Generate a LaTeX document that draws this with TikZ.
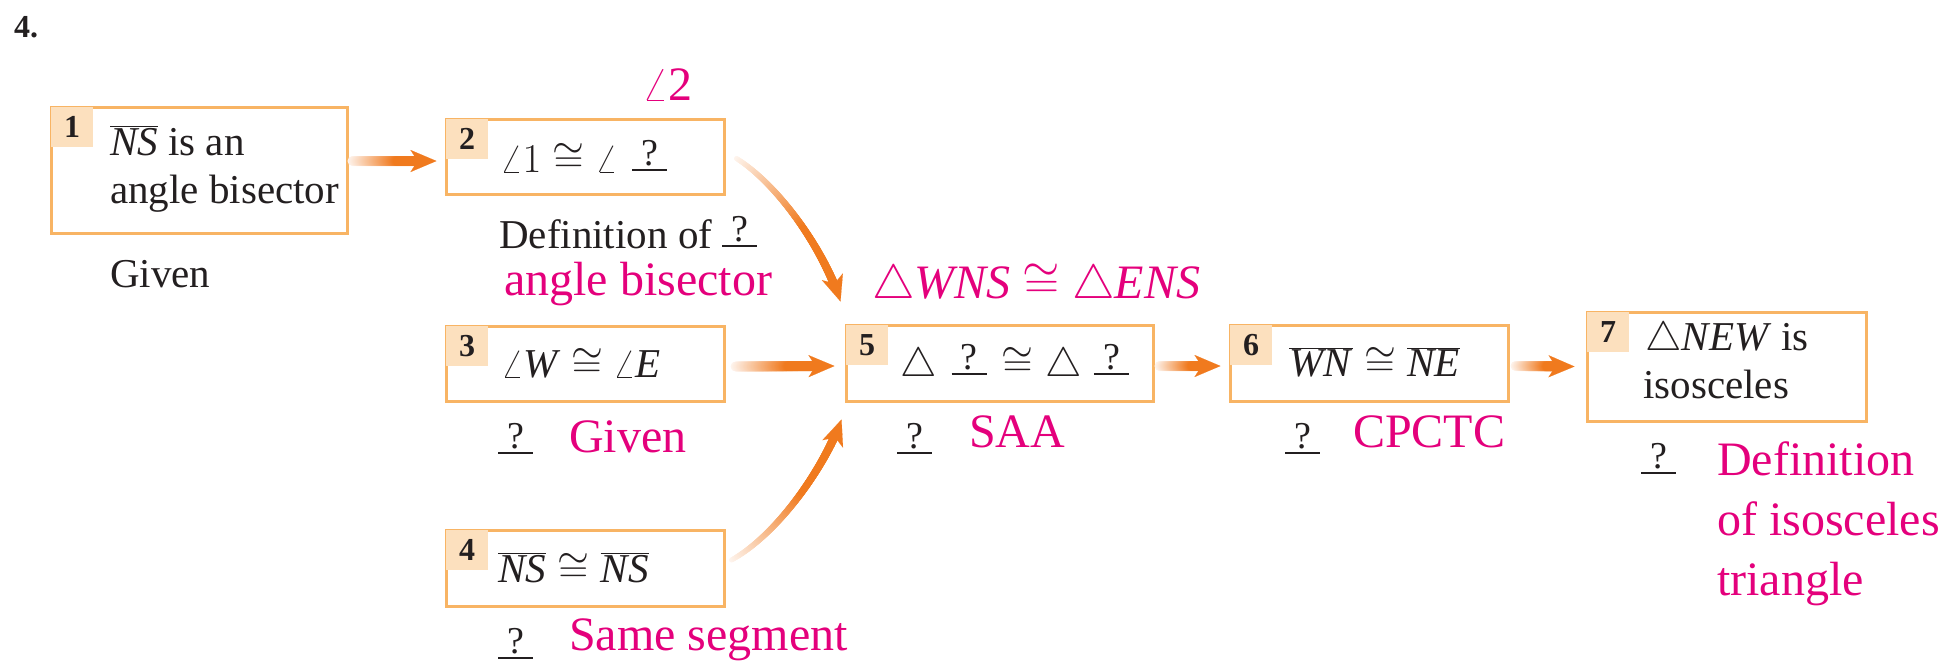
\RequirePackage{fix-cm}
\documentclass[tikz,border=0pt]{standalone}
\usepackage{fontspec}
\setmainfont{Liberation Serif}
\usetikzlibrary{calc,decorations.markings,arrows.meta}
\definecolor{mag}{RGB}{228,0,124}
\definecolor{arr}{RGB}{240,122,30}
\definecolor{boxor}{RGB}{248,180,100}
\definecolor{tabf}{RGB}{252,224,190}
\definecolor{ink}{RGB}{35,31,32}
\newcommand\qm{\makebox[35pt][c]{\raisebox{7pt}{\fontsize{38}{38}\selectfont ?}}\kern-35pt\rule[1pt]{35pt}{2.2pt}}
\tikzset{
  box/.style={draw=boxor, line width=3pt, rectangle, inner sep=0pt},
  tab/.style={fill=tabf, minimum width=42pt, minimum height=40pt, inner sep=0pt, anchor=north west,
    text=ink, font=\bfseries\fontsize{32}{32}\selectfont},
  txt/.style={anchor=base west, inner sep=0pt, text=ink, font=\fontsize{41}{48}\selectfont},
  ans/.style={anchor=base west, inner sep=0pt, text=mag, font=\fontsize{48}{60}\selectfont},
  dots/.style 2 args={decorate, decoration={markings,
    mark=between positions 0 and -16pt step 0.5pt with {%
      \pgfmathsetmacro\fr{\pgfkeysvalueof{/pgf/decoration/mark info/distance from start}/\pgfdecoratedpathlength}%
      \pgfmathtruncatemacro\pc{min(100,8+170*\fr)}%
      \fill[arr!\pc!white] (0pt,0pt) circle[radius={(#1+(#2-#1)*\fr)*1pt}];%
    }}},
  flow/.style 2 args={draw=arr!20!white, line width=0.1pt,
    -{Stealth[length=26pt, width=22pt, inset=7pt, color=arr]},
    postaction={dots={#1}{#2}}},
}
\begin{document}
\begin{tikzpicture}[x=1pt,y=-1pt]
\useasboundingbox (0,0) rectangle (1952,670);
% boxes
\node[box, minimum width=296pt, minimum height=126pt] (b1) at (199,170) {};
\node[box, minimum width=278pt, minimum height=75pt] (b2) at (585,156.5) {};
\node[box, minimum width=278pt, minimum height=75pt] (b3) at (585,363.5) {};
\node[box, minimum width=278pt, minimum height=76pt] (b4) at (585,568) {};
\node[box, minimum width=307pt, minimum height=76pt] (b5) at (999.5,363) {};
\node[box, minimum width=278pt, minimum height=76pt] (b6) at (1369,363) {};
\node[box, minimum width=279pt, minimum height=109pt] (b7) at (1726.5,366.5) {};
% tabs
\node[tab] (n1) at ($(b1.north west)+(1.5,1.5)$) {1};
\node[tab] (n2) at ($(b2.north west)+(1.5,1.5)$) {2};
\node[tab] (n3) at ($(b3.north west)+(1.5,1.5)$) {3};
\node[tab] (n4) at ($(b4.north west)+(1.5,1.5)$) {4};
\node[tab] (n5) at ($(b5.north west)+(1.5,1.5)$) {5};
\node[tab] (n6) at ($(b6.north west)+(1.5,1.5)$) {6};
\node[tab] (n7) at ($(b7.north west)+(1.5,1.5)$) {7};
% title
\node[txt, font=\bfseries\fontsize{32}{32}\selectfont] (num) at (14,37) {4.};
% box 1
\node[txt] (t1a) at (110,155) {$\overline{\mbox{\textit{NS}}}$ is an};
\node[txt] (t1b) at (110,203) {angle bisector};
\node[txt] (g1) at (110,287) {Given};
% box 2
\node[txt] (t2) at (500,172) {$\angle 1 \cong \angle$\hspace{14pt}\qm};
\node[ans] (a2) at (642,100) {$\angle$2};
\node[txt] (d2) at (499,248) {Definition of \qm};
\node[ans] (d2a) at (504,295) {angle bisector};
\node[ans] (c5) at (872,298) {$\triangle$\textit{WNS} $\cong$ $\triangle$\textit{ENS}};
% box 3
\node[txt] (t3) at (501,377) {$\angle$\textit{W} $\cong$ $\angle$\textit{E}};
\node[txt] (q3) at (498,455) {\qm};
\node[ans] (r3) at (569,452) {Given};
% box 4
\node[txt] (t4) at (498,582) {$\overline{\mbox{\textit{NS}}}\cong\overline{\mbox{\textit{NS}}}$};
\node[txt] (q4) at (498,660) {\qm};
\node[ans] (r4) at (569,650) {Same segment};
% box 5
\node[txt] (t5) at (900,376) {$\triangle$\hspace{15pt}\qm\hspace{15pt}$\cong$\hspace{12pt}$\triangle$\hspace{12pt}\qm};
\node[txt] (q5) at (897,455) {\qm};
\node[ans] (r5) at (969,447) {SAA};
% box 6
\node[txt] (t6) at (1289,376) {$\overline{\mbox{\textit{WN}}}\cong\overline{\mbox{\textit{NE}}}$};
\node[txt] (q6) at (1285,455) {\qm};
\node[ans] (r6) at (1353,447) {CPCTC};
% box 7
\node[txt] (t7a) at (1645,350) {$\triangle$\textit{NEW} is};
\node[txt] (t7b) at (1643,398) {isosceles};
\node[txt] (q7) at (1641,475) {\qm};
\node[ans] (r7a) at (1717,475) {Definition};
\node[ans] (r7b) at (1717,535) {of isosceles};
\node[ans] (r7c) at (1717,595) {triangle};
% arrows
\draw[flow={5}{5}] ($(b1.east|-b2.west)+(4,4.5)$) -- ($(b2.west)+(-8,4.5)$);
\draw[flow={5}{5}] ($(b3.east)+(10,3)$) -- ($(b5.west)+(-10,3)$);
\draw[flow={5}{5}] ($(b5.east)+(5,3)$) -- ($(b6.west)+(-8,3)$);
\draw[flow={5}{5}] ($(b6.east)+(6,3)$) -- ($(b7.west)+(-11,0)$);
\draw[flow={2.5}{4.5}] ($(b2.east)+(11,2)$) .. controls +(40,25) and +(-18,-55) .. ($(b5.north west)+(-4,-22)$);
\draw[flow={2.5}{4.5}] ($(b4.east)+(6,-8)$) .. controls +(45,-25) and +(-18,50) .. ($(b5.south west)+(-3,17)$);
\end{tikzpicture}
\end{document}
